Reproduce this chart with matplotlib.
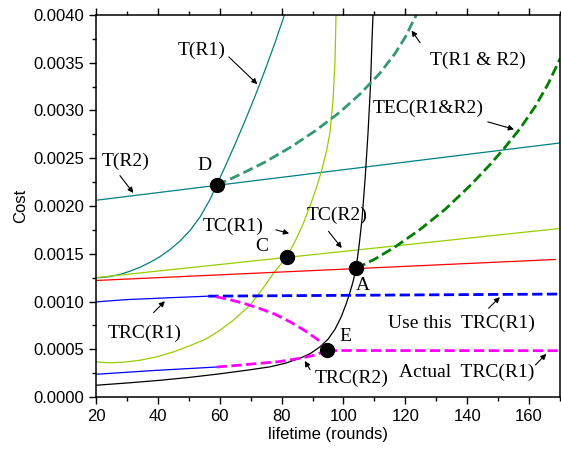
import matplotlib.pyplot as plt
import numpy as np

# valores (lifetime em rounds, custo)
t_r1_x = [20, 21.29, 24.53, 27.76, 30.99, 34.23, 37.46, 40.69, 43.92, 47.16, 50.39, 53.62,
          56.86, 59.02, 61.71, 64.94, 68.17, 71.41, 74.64, 77.87, 80.46, 80.91]
t_r1_y = [0.001249, 0.001250, 0.001261, 0.001284, 0.001317, 0.001359, 0.001410, 0.001470,
          0.001544, 0.001633, 0.001743, 0.001884, 0.002068, 0.002219, 0.002410, 0.002646,
          0.002892, 0.003149, 0.003422, 0.003710, 0.003957, 0.0040]

t_r2_x = [20, 170]
t_r2_y = [0.00206, 0.00266]

t_r12_x = [59.02, 66.55, 74.64, 82.72, 90.80, 98.89, 105.35, 111.82, 116.67, 119.90, 123.14, 123.56]
t_r12_y = [0.002219, 0.002329, 0.002460, 0.002612, 0.002785, 0.002984, 0.003172, 0.003392,
           0.003597, 0.003764, 0.003974, 0.0040]

tc_line_x = [20, 170]
tc_line_y = [0.00125, 0.001765]

tc_curve_x = [20, 24.53, 29.38, 34.23, 39.72, 44.99, 50.39, 55.79, 60.09, 64.39, 69.79, 73.67,
              77.32, 81.66, 84.34, 87.02, 89.19, 91.36, 93.07, 94.59, 95.66, 96.63, 97.28, 97.60]
tc_curve_y = [0.000367, 0.000358, 0.000366, 0.000385, 0.000421, 0.000472, 0.000537, 0.000612,
              0.000699, 0.000804, 0.000961, 0.001123, 0.001293, 0.001467, 0.001627, 0.001817,
              0.001999, 0.002201, 0.002386, 0.002585, 0.002774, 0.003109, 0.003529, 0.0040]

red_x = [20, 168.5]
red_y = [0.00122, 0.00144]

black_x = [20, 30.99, 40.69, 50.39, 60.09, 69.79, 76.26, 81.11, 85.96, 89.19, 92.43, 95.01,
           97.28, 99.22, 100.83, 102.12, 103.09, 104.06, 105.03, 106.0, 106.97, 107.94,
           108.75, 109.23, 109.55]
black_y = [0.000123, 0.000149, 0.000175, 0.000206, 0.000243, 0.000285, 0.000316, 0.000353,
           0.000406, 0.000453, 0.000526, 0.000605, 0.000710, 0.000835, 0.000971, 0.001097,
           0.001207, 0.001346, 0.001579, 0.001862, 0.002271, 0.002764, 0.003267, 0.003738,
           0.0040]

tec_x = [104.06, 110.2, 116.67, 124.75, 132.84, 140.92, 147.39, 152.24, 157.09, 161.94,
         166.14, 170.0]
tec_y = [0.001346, 0.001445, 0.001571, 0.001754, 0.001964, 0.002213, 0.002433, 0.002615,
         0.002811, 0.003039, 0.003277, 0.003541]

trc1_x = [20, 30, 42.8, 56.3]
trc1_y = [0.000996, 0.00102, 0.001038, 0.001056]
trc1_dash_x = [56.3, 170]
trc1_dash_y = [0.001056, 0.001078]

trc2_x = [20, 40, 59.02]
trc2_y = [0.000238, 0.000280, 0.000314]

mag_down_x = [58.8, 63.32, 68.17, 73.02, 77.87, 82.72, 87.57, 91.78, 94.59]
mag_down_y = [0.00105, 0.001019, 0.000977, 0.000926, 0.000867, 0.000788, 0.000694, 0.000599,
              0.000487]
mag_up_x = [59.02, 66.55, 73.02, 79.49, 85.96, 90.8, 94.59]
mag_up_y = [0.000314, 0.000334, 0.000353, 0.000372, 0.000406, 0.000439, 0.000487]
mag_flat_x = [94.59, 170]
mag_flat_y = [0.000487, 0.000485]

pts_x = [59.02, 81.66, 104.06, 94.59]
pts_y = [0.002219, 0.001467, 0.001346, 0.000487]

fig = plt.figure(figsize=(5.61, 4.49), dpi=100)
ax = fig.add_axes([0.1711, 0.1158, 0.8271, 0.8508])

teal = '#008080'
yg = '#99CC00'
ax.plot(t_r1_x, t_r1_y, color=teal, lw=0.9)
ax.plot(t_r2_x, t_r2_y, color=teal, lw=0.9)
ax.plot(tc_line_x, tc_line_y, color=yg, lw=0.9)
ax.plot(tc_curve_x, tc_curve_y, color=yg, lw=0.9)
ax.plot(red_x, red_y, color='#FF0000', lw=0.9)
ax.plot(black_x, black_y, color='black', lw=0.9)
ax.plot(trc1_x, trc1_y, color='#0000FF', lw=0.9)
ax.plot(trc2_x, trc2_y, color='#0000FF', lw=0.9)

ax.plot(t_r12_x, t_r12_y, color='#339970', lw=2, ls='--')
ax.plot(tec_x, tec_y, color='#008000', lw=2, ls='--')
ax.plot(trc1_dash_x, trc1_dash_y, color='#0000FF', lw=2, ls='--')
ax.plot(mag_down_x, mag_down_y, color='#FF00FF', lw=2, ls='--')
ax.plot(mag_up_x, mag_up_y, color='#FF00FF', lw=2, ls='--')
ax.plot(mag_flat_x, mag_flat_y, color='#FF00FF', lw=2, ls='--')

ax.plot(pts_x, pts_y, 'o', color='black', ms=10, zorder=5)

serif = dict(family='Liberation Serif', fontsize=14)
aprops = dict(arrowstyle='-|>', color='black', lw=0.8, mutation_scale=8)

# (texto, posição do texto, cauda da seta, ponta da seta)
labels = [
    ("T(R1)", (54.2, 0.003633), (62.3, 0.003581), (72.8, 0.003256)),
    ("T(R2)", (29.7, 0.002463), (27.2, 0.002341), (32.6, 0.002114)),
    ("TC(R1)", (64.2, 0.001782), (77.3, 0.001758), (83.3, 0.001705)),
    ("TC(R2)", (98.0, 0.001904), (94.6, 0.001758), (100.0, 0.001537)),
    ("T(R1 & R2)", (143.6, 0.003529), (125.3, 0.003686), (121.5, 0.003861)),
    ("TEC(R1&R2)", (127.4, 0.003023), (145.8, 0.002889), (156.0, 0.002795)),
    ("TRC(R1)", (35.8, 0.000664), (38.0, 0.000864), (42.9, 0.001024)),
    ("Use this  TRC(R1)", (138.2, 0.000769), (146.3, 0.000909), (151.2, 0.001066)),
    ("TRC(R2)", (102.7, 0.000193), (89.7, 0.000262), (87.0, 0.000402)),
    ("Actual  TRC(R1)", (139.8, 0.000262), (161.4, 0.000314), (166.2, 0.000472)),
]
for txt, pos, tail, head in labels:
    ax.text(pos[0], pos[1], txt, ha='center', va='center', **serif)
    ax.annotate('', xy=head, xytext=tail, arrowprops=aprops)

for txt, pos in [("D", (55.2, 0.002428)), ("C", (73.6, 0.001572)),
                 ("A", (106.4, 0.001171)), ("E", (100.5, 0.000629))]:
    ax.text(pos[0], pos[1], txt, ha='center', va='center', **serif)

ax.set_xlim(20, 170)
ax.set_ylim(0, 0.004)
ax.set_xticks(np.arange(20, 170, 20))
ax.set_xticks(np.arange(20, 171, 10), minor=True)
ax.set_yticks(np.arange(0, 0.00401, 0.0005))
ax.set_yticks(np.arange(0, 0.00401, 0.00025), minor=True)
ax.set_yticklabels(["%.4f" % v for v in np.arange(0, 0.00401, 0.0005)])
ax.tick_params(which='major', direction='out', length=5, width=1, labelsize=12, top=True)
ax.tick_params(which='minor', direction='out', length=3, width=1, top=True)
for s in ax.spines.values():
    s.set_linewidth(1.1)

ax.set_xlabel("lifetime (rounds)", fontsize=12, family='Liberation Sans', labelpad=2)
ax.set_ylabel("Cost", fontsize=12, family='Liberation Sans', labelpad=4)
for lab in ax.get_xticklabels() + ax.get_yticklabels():
    lab.set_family('Liberation Sans')

fig.savefig("out.png", dpi=100)
